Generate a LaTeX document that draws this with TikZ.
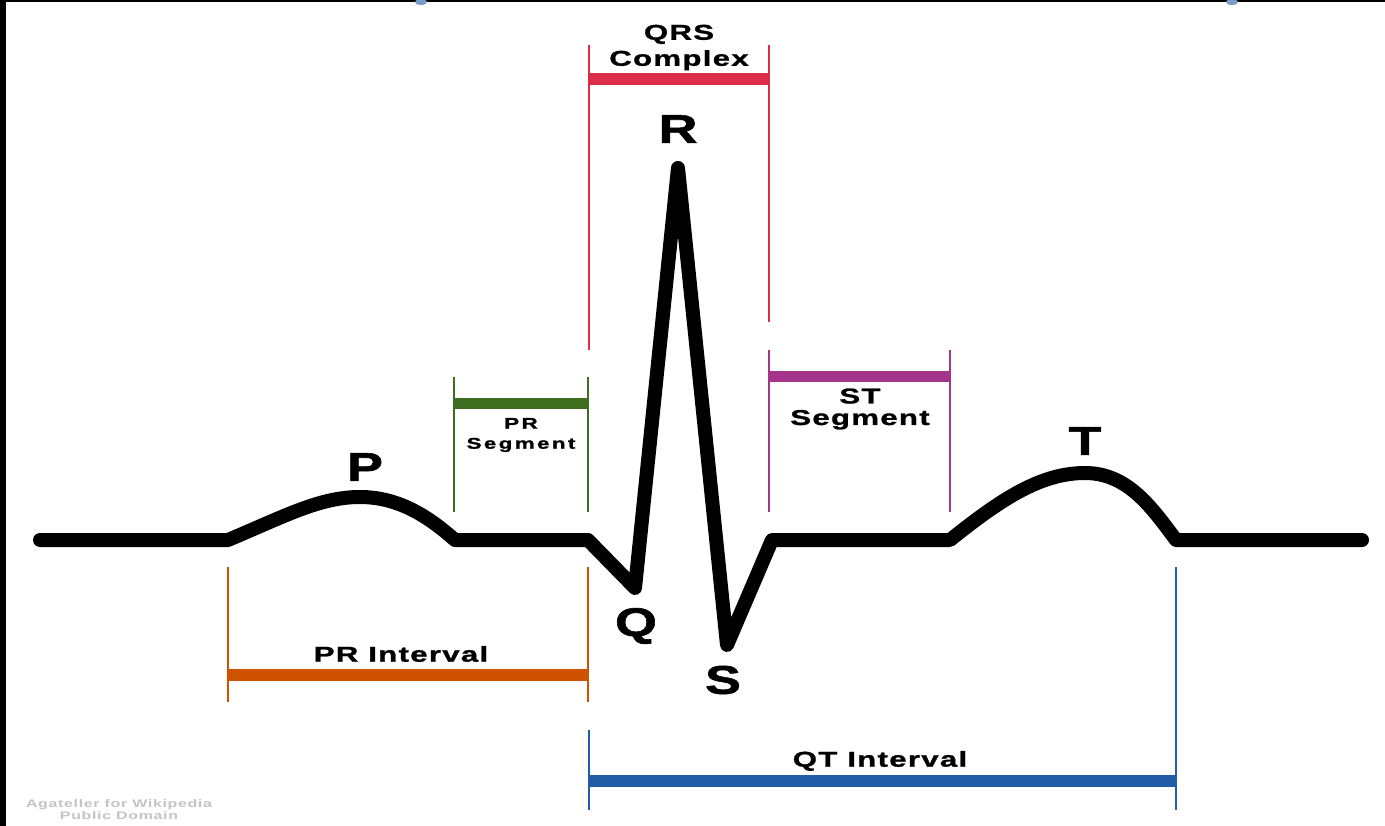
\documentclass[tikz,border=0pt]{standalone}
\usepackage{fontspec}
\setmainfont{Liberation Sans}
\newfontfamily\widefont[FakeStretch=1.45,LetterSpace=6,FakeBold=1.2]{Liberation Sans}
\newfontfamily\widerfont[FakeStretch=1.45,LetterSpace=15,FakeBold=1.2]{Liberation Sans}
\newfontfamily\wavefont[FakeStretch=1.35,FakeBold=1.5]{Liberation Sans}
\newfontfamily\wmfont[FakeStretch=1.45,LetterSpace=6]{Liberation Sans}
\definecolor{qrsred}{HTML}{DC2E47}
\definecolor{prgreen}{HTML}{3E6E1F}
\definecolor{stpurple}{HTML}{A5358B}
\definecolor{prorange}{HTML}{CF5200}
\definecolor{qtblue}{HTML}{225BA6}
\definecolor{wmgray}{HTML}{C4C4C4}
\tikzset{
  ecg/.style={line width=14pt, line cap=round, line join=round, black},
  tick/.style={line width=2.5pt},
  bar/.style={line width=12pt, line cap=butt},
  wave/.style={font=\wavefont\fontsize{40}{40}\selectfont\bfseries, inner sep=0pt},
  biglab/.style={font=\widefont\fontsize{21.5}{26}\selectfont\bfseries, align=center, inner sep=0pt},
  midlab/.style={font=\widefont\fontsize{21.5}{21.5}\selectfont\bfseries, align=center, inner sep=0pt},
  smalllab/.style={font=\widerfont\fontsize{15.5}{20}\selectfont\bfseries, align=center, inner sep=0pt},
  wm/.style={font=\wmfont\fontsize{11}{12}\selectfont\bfseries, text=wmgray, align=center, inner sep=0pt}
}
\begin{document}
\begin{tikzpicture}[x=1pt,y=-1pt]
\useasboundingbox (0,0) rectangle (1385,826);
\fill[white] (0,0) rectangle (1385,826);
% black frame strips
\fill[black] (0,0) rectangle (6,826);
\fill[black] (0,0) rectangle (1385,2.5);
\fill[qtblue!60!white] (421,2) ellipse (6 and 3);
\fill[qtblue!60!white] (1232,2) ellipse (6 and 3);

% ECG trace
\coordinate (st) at (40,540);
\coordinate (pa) at (228,540);
\coordinate (pp) at (360,497);
\coordinate (pb) at (455,540);
\coordinate (qs) at (588,540);
\coordinate (qq) at (635,588);
\coordinate (rr) at (678,168);
\coordinate (ss) at (727,645);
\coordinate (se) at (772,540);
\coordinate (ta) at (950,540);
\coordinate (tp) at (1085,473);
\coordinate (tb) at (1176,540);
\coordinate (en) at (1362,540);
\draw[ecg] (st) -- (pa)
  .. controls (285,516) and (320,497) .. (pp)
  .. controls (400,497) and (430,518) .. (pb)
  -- (qs) -- (qq) -- (rr) -- (ss) -- (se) -- (ta)
  .. controls (1000,500) and (1040,473) .. (tp)
  .. controls (1128,473) and (1152,508) .. (tb) -- (en);

% wave labels
\node[wave] (P) at (365,467) {P};
\node[wave] (Q) at (636,626) {Q};
\node[wave] (R) at (678,129) {R};
\node[wave] (S) at (723,680) {S};
\node[wave] (T) at (1085,441) {T};

% QRS complex
\coordinate (qrsL1) at (589,45); \coordinate (qrsL2) at (589,350);
\coordinate (qrsR1) at (769,45); \coordinate (qrsR2) at (769,322);
\coordinate (qrsB1) at (590,79); \coordinate (qrsB2) at (768,79);
\draw[tick, qrsred] (qrsL1) -- (qrsL2);
\draw[tick, qrsred] (qrsR1) -- (qrsR2);
\draw[bar, qrsred] (qrsB1) -- (qrsB2);
\node[biglab] (qrslab) at (679,47.5) {QRS\\Complex};

% PR segment
\coordinate (prsL1) at (454,377); \coordinate (prsL2) at (454,512);
\coordinate (prsR1) at (588,377); \coordinate (prsR2) at (588,512);
\coordinate (prsB1) at (455,404); \coordinate (prsB2) at (587,404);
\draw[tick, prgreen] (prsL1) -- (prsL2);
\draw[tick, prgreen] (prsR1) -- (prsR2);
\draw[bar, prgreen, line width=11pt] (prsB1) -- (prsB2);
\node[smalllab] (prslab) at (521,435) {PR\\Segment};

% ST segment
\coordinate (stL1) at (769,350); \coordinate (stL2) at (769,512);
\coordinate (stR1) at (950,350); \coordinate (stR2) at (950,512);
\coordinate (stB1) at (770,377); \coordinate (stB2) at (949,377);
\draw[tick, stpurple] (stL1) -- (stL2);
\draw[tick, stpurple] (stR1) -- (stR2);
\draw[bar, stpurple, line width=11pt] (stB1) -- (stB2);
\node[midlab] (stlab) at (860,409) {ST\\Segment};

% PR interval
\coordinate (priL1) at (228,567); \coordinate (priL2) at (228,702);
\coordinate (priR1) at (588,567); \coordinate (priR2) at (588,702);
\coordinate (priB1) at (229,675); \coordinate (priB2) at (587,675);
\draw[tick, prorange] (priL1) -- (priL2);
\draw[tick, prorange] (priR1) -- (priR2);
\draw[bar, prorange] (priB1) -- (priB2);
\node[biglab] (prilab) at (401,654) {PR Interval};

% QT interval
\coordinate (qtL1) at (589,730); \coordinate (qtL2) at (589,810);
\coordinate (qtR1) at (1176,567); \coordinate (qtR2) at (1176,810);
\coordinate (qtB1) at (590,781); \coordinate (qtB2) at (1175,781);
\draw[tick, qtblue] (qtL1) -- (qtL2);
\draw[tick, qtblue] (qtR1) -- (qtR2);
\draw[bar, qtblue] (qtB1) -- (qtB2);
\node[biglab] (qtlab) at (880,761) {QT Interval};

% watermark
\node[wm] (wmark) at (119,810) {Agateller for Wikipedia\\Public Domain};
\end{tikzpicture}
\end{document}
